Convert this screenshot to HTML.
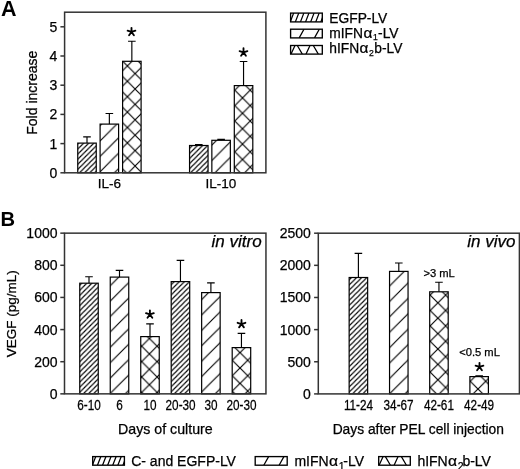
<!DOCTYPE html>
<html><head><meta charset="utf-8"><style>
html,body{margin:0;padding:0;background:#fff;overflow:hidden;width:520px;height:469px;}
svg{display:block;filter:grayscale(1);}
text{font-family:"Liberation Sans", sans-serif;fill:#000;stroke:#000;stroke-width:0.25px;}
</style></head><body>
<svg width="520" height="469" viewBox="0 0 520 469">
<rect width="520" height="469" fill="#fff"/>
<defs>
<pattern id="p1" patternUnits="userSpaceOnUse" x="77.50" y="154.40" width="5.1" height="5.1"><path d="M-1,1 L1,-1 M0,5.1 L5.1,0 M4.1,6.1 L6.1,4.1" stroke="#000" stroke-width="1.15" fill="none"/></pattern>
<pattern id="p2" patternUnits="userSpaceOnUse" x="100.00" y="141.00" width="15.4" height="15.4"><path d="M-1,1 L1,-1 M0,15.4 L15.4,0 M14.4,16.4 L16.4,14.4" stroke="#000" stroke-width="1.15" fill="none"/></pattern>
<pattern id="p3" patternUnits="userSpaceOnUse" x="127.40" y="81.30" width="15.4" height="15.4"><path d="M-1,1 L1,-1 M0,15.4 L15.4,0 M14.4,16.4 L16.4,14.4 M-1,14.4 L1,16.4 M0,0 L15.4,15.4 M14.4,-1 L16.4,1" stroke="#000" stroke-width="1.15" fill="none"/></pattern>
<pattern id="p4" patternUnits="userSpaceOnUse" x="189.60" y="153.40" width="5.1" height="5.1"><path d="M-1,1 L1,-1 M0,5.1 L5.1,0 M4.1,6.1 L6.1,4.1" stroke="#000" stroke-width="1.15" fill="none"/></pattern>
<pattern id="p5" patternUnits="userSpaceOnUse" x="211.90" y="160.40" width="15.4" height="15.4"><path d="M-1,1 L1,-1 M0,15.4 L15.4,0 M14.4,16.4 L16.4,14.4" stroke="#000" stroke-width="1.15" fill="none"/></pattern>
<pattern id="p6" patternUnits="userSpaceOnUse" x="242.50" y="97.90" width="15.4" height="15.4"><path d="M-1,1 L1,-1 M0,15.4 L15.4,0 M14.4,16.4 L16.4,14.4 M-1,14.4 L1,16.4 M0,0 L15.4,15.4 M14.4,-1 L16.4,1" stroke="#000" stroke-width="1.15" fill="none"/></pattern>
<clipPath id="c6"><rect x="290.6" y="13.1" width="31.70" height="8.80"/></clipPath>
<clipPath id="c7"><rect x="290.6" y="29.2" width="31.70" height="8.70"/></clipPath>
<clipPath id="c8"><rect x="290.6" y="45.5" width="31.70" height="8.60"/></clipPath>
<pattern id="p7" patternUnits="userSpaceOnUse" x="79.85" y="290.20" width="5.1" height="5.1"><path d="M-1,1 L1,-1 M0,5.1 L5.1,0 M4.1,6.1 L6.1,4.1" stroke="#000" stroke-width="1.15" fill="none"/></pattern>
<pattern id="p8" patternUnits="userSpaceOnUse" x="110.40" y="285.50" width="15.4" height="15.4"><path d="M-1,1 L1,-1 M0,15.4 L15.4,0 M14.4,16.4 L16.4,14.4" stroke="#000" stroke-width="1.15" fill="none"/></pattern>
<pattern id="p9" patternUnits="userSpaceOnUse" x="149.40" y="353.90" width="15.4" height="15.4"><path d="M-1,1 L1,-1 M0,15.4 L15.4,0 M14.4,16.4 L16.4,14.4 M-1,14.4 L1,16.4 M0,0 L15.4,15.4 M14.4,-1 L16.4,1" stroke="#000" stroke-width="1.15" fill="none"/></pattern>
<pattern id="p10" patternUnits="userSpaceOnUse" x="171.60" y="289.40" width="5.1" height="5.1"><path d="M-1,1 L1,-1 M0,5.1 L5.1,0 M4.1,6.1 L6.1,4.1" stroke="#000" stroke-width="1.15" fill="none"/></pattern>
<pattern id="p11" patternUnits="userSpaceOnUse" x="201.40" y="299.80" width="15.4" height="15.4"><path d="M-1,1 L1,-1 M0,15.4 L15.4,0 M14.4,16.4 L16.4,14.4" stroke="#000" stroke-width="1.15" fill="none"/></pattern>
<pattern id="p12" patternUnits="userSpaceOnUse" x="240.00" y="352.60" width="15.4" height="15.4"><path d="M-1,1 L1,-1 M0,15.4 L15.4,0 M14.4,16.4 L16.4,14.4 M-1,14.4 L1,16.4 M0,0 L15.4,15.4 M14.4,-1 L16.4,1" stroke="#000" stroke-width="1.15" fill="none"/></pattern>
<pattern id="p13" patternUnits="userSpaceOnUse" x="349.30" y="284.90" width="5.1" height="5.1"><path d="M-1,1 L1,-1 M0,5.1 L5.1,0 M4.1,6.1 L6.1,4.1" stroke="#000" stroke-width="1.15" fill="none"/></pattern>
<pattern id="p14" patternUnits="userSpaceOnUse" x="389.40" y="286.20" width="15.4" height="15.4"><path d="M-1,1 L1,-1 M0,15.4 L15.4,0 M14.4,16.4 L16.4,14.4" stroke="#000" stroke-width="1.15" fill="none"/></pattern>
<pattern id="p15" patternUnits="userSpaceOnUse" x="437.90" y="302.80" width="15.4" height="15.4"><path d="M-1,1 L1,-1 M0,15.4 L15.4,0 M14.4,16.4 L16.4,14.4 M-1,14.4 L1,16.4 M0,0 L15.4,15.4 M14.4,-1 L16.4,1" stroke="#000" stroke-width="1.15" fill="none"/></pattern>
<pattern id="p16" patternUnits="userSpaceOnUse" x="478.00" y="389.00" width="15.4" height="15.4"><path d="M-1,1 L1,-1 M0,15.4 L15.4,0 M14.4,16.4 L16.4,14.4 M-1,14.4 L1,16.4 M0,0 L15.4,15.4 M14.4,-1 L16.4,1" stroke="#000" stroke-width="1.15" fill="none"/></pattern>
<clipPath id="c19"><rect x="92.7" y="456.6" width="31.70" height="8.60"/></clipPath>
<clipPath id="c20"><rect x="255.2" y="456.6" width="32.00" height="8.60"/></clipPath>
<clipPath id="c21"><rect x="378.7" y="456.6" width="31.60" height="8.60"/></clipPath>
</defs>
<text x="0.9" y="15.9" font-size="21.5" text-anchor="start" font-weight="bold" font-style="normal"  style="stroke-width:0">A</text>
<rect x="77.75" y="143.1" width="18.50" height="29.70" fill="url(#p1)" stroke="#000" stroke-width="1.2"/>
<path d="M87.00,143.1 V136.85 M83.20,136.85 H90.80" stroke="#000" stroke-width="1.15" fill="none"/>
<rect x="100.1" y="124.1" width="18.50" height="48.70" fill="url(#p2)" stroke="#000" stroke-width="1.2"/>
<path d="M109.35,124.1 V113.5 M105.55,113.5 H113.15" stroke="#000" stroke-width="1.15" fill="none"/>
<rect x="122.6" y="61.3" width="18.50" height="111.50" fill="url(#p3)" stroke="#000" stroke-width="1.2"/>
<path d="M131.85,61.3 V41.2 M128.05,41.2 H135.65" stroke="#000" stroke-width="1.15" fill="none"/>
<rect x="189.55" y="145.5" width="18.50" height="27.30" fill="url(#p4)" stroke="#000" stroke-width="1.2"/>
<path d="M198.80,145.5 V144.6 M195.00,144.6 H202.60" stroke="#000" stroke-width="1.15" fill="none"/>
<rect x="211.85" y="140.3" width="18.50" height="32.50" fill="url(#p5)" stroke="#000" stroke-width="1.2"/>
<path d="M221.10,140.3 V139.4 M217.30,139.4 H224.90" stroke="#000" stroke-width="1.15" fill="none"/>
<rect x="234.3" y="85.6" width="18.50" height="87.20" fill="url(#p6)" stroke="#000" stroke-width="1.2"/>
<path d="M243.55,85.6 V61.5 M239.75,61.5 H247.35" stroke="#000" stroke-width="1.15" fill="none"/>
<rect x="64.6" y="12.2" width="201.30" height="160.60" fill="none" stroke="#333" stroke-width="1.5"/>
<path d="M60.39999999999999,172.80 H64.6" stroke="#333" stroke-width="1.5"/>
<text x="57.4" y="177.75" font-size="14" text-anchor="end" font-weight="normal" font-style="normal" >0</text>
<path d="M60.39999999999999,143.60 H64.6" stroke="#333" stroke-width="1.5"/>
<text x="57.4" y="148.55" font-size="14" text-anchor="end" font-weight="normal" font-style="normal" >1</text>
<path d="M60.39999999999999,114.40 H64.6" stroke="#333" stroke-width="1.5"/>
<text x="57.4" y="119.35" font-size="14" text-anchor="end" font-weight="normal" font-style="normal" >2</text>
<path d="M60.39999999999999,85.20 H64.6" stroke="#333" stroke-width="1.5"/>
<text x="57.4" y="90.15" font-size="14" text-anchor="end" font-weight="normal" font-style="normal" >3</text>
<path d="M60.39999999999999,56.00 H64.6" stroke="#333" stroke-width="1.5"/>
<text x="57.4" y="60.95" font-size="14" text-anchor="end" font-weight="normal" font-style="normal" >4</text>
<path d="M60.39999999999999,26.80 H64.6" stroke="#333" stroke-width="1.5"/>
<text x="57.4" y="31.75" font-size="14" text-anchor="end" font-weight="normal" font-style="normal" >5</text>
<path d="M131.50,31.95 L131.50,27.85 M131.50,31.95 L135.40,30.68 M131.50,31.95 L127.60,30.68 M131.50,31.95 L133.91,35.27 M131.50,31.95 L129.09,35.27 " stroke="#000" stroke-width="1.85" stroke-linecap="round" fill="none"/>
<path d="M243.50,52.35 L243.50,48.25 M243.50,52.35 L247.40,51.08 M243.50,52.35 L239.60,51.08 M243.50,52.35 L245.91,55.67 M243.50,52.35 L241.09,55.67 " stroke="#000" stroke-width="1.85" stroke-linecap="round" fill="none"/>
<text x="109.3" y="188.2" font-size="13.5" text-anchor="middle" font-weight="normal" font-style="normal" >IL-6</text>
<text x="221.0" y="188.2" font-size="13.5" text-anchor="middle" font-weight="normal" font-style="normal" >IL-10</text>
<text transform="translate(36.8,92.7) rotate(-90)" font-size="14" text-anchor="middle">Fold increase</text>
<path d="M290.25,21.90 L293.65,13.10 M295.35,21.90 L298.75,13.10 M300.45,21.90 L303.85,13.10 M305.55,21.90 L308.95,13.10 M310.65,21.90 L314.05,13.10 M315.75,21.90 L319.15,13.10 M320.85,21.90 L324.25,13.10" stroke="#000" stroke-width="1.25" fill="none" clip-path="url(#c6)"/>
<rect x="290.6" y="13.1" width="31.70" height="8.80" fill="none" stroke="#000" stroke-width="1.35"/>
<path d="M299.20,37.90 L304.00,29.20 M314.50,37.90 L319.30,29.20" stroke="#000" stroke-width="1.25" fill="none" clip-path="url(#c7)"/>
<rect x="290.6" y="29.2" width="31.70" height="8.70" fill="none" stroke="#000" stroke-width="1.35"/>
<path d="M291.00,54.10 L295.00,45.50 M306.00,54.10 L310.00,45.50 M297.30,45.50 L302.30,54.10 M313.30,45.50 L318.30,54.10" stroke="#000" stroke-width="1.25" fill="none" clip-path="url(#c8)"/>
<rect x="290.6" y="45.5" width="31.70" height="8.60" fill="none" stroke="#000" stroke-width="1.35"/>
<text x="329.3" y="22.7" font-size="13.8" text-anchor="start" font-weight="normal" font-style="normal" >EGFP-LV</text>
<text x="329.30" y="38.0" font-size="13.8">mIFN</text>
<text transform="translate(363.38,38.0) scale(1.12,1)" font-size="13.8">&#945;</text>
<text x="372.91" y="40.40" font-size="8.6">1</text>
<text x="378.09" y="38.0" font-size="13.8">-LV</text>
<text x="329.30" y="53.3" font-size="13.8">hIFN</text>
<text transform="translate(359.55,53.3) scale(1.12,1)" font-size="13.8">&#945;</text>
<text x="369.09" y="55.70" font-size="8.6">2</text>
<text x="374.27" y="53.3" font-size="13.8">b-LV</text>
<text x="0.4" y="226.1" font-size="20.2" text-anchor="start" font-weight="bold" font-style="normal"  style="stroke-width:0">B</text>
<rect x="79.75" y="283.2" width="18.50" height="110.65" fill="url(#p7)" stroke="#000" stroke-width="1.2"/>
<path d="M89.00,283.2 V276.75 M85.20,276.75 H92.80" stroke="#000" stroke-width="1.15" fill="none"/>
<rect x="110.25" y="277.1" width="18.50" height="116.75" fill="url(#p8)" stroke="#000" stroke-width="1.2"/>
<path d="M119.50,277.1 V270.3 M115.70,270.3 H123.30" stroke="#000" stroke-width="1.15" fill="none"/>
<rect x="140.75" y="336.6" width="18.50" height="57.25" fill="url(#p9)" stroke="#000" stroke-width="1.2"/>
<path d="M150.00,336.6 V323.8 M146.20,323.8 H153.80" stroke="#000" stroke-width="1.15" fill="none"/>
<rect x="171.2" y="281.6" width="18.50" height="112.25" fill="url(#p10)" stroke="#000" stroke-width="1.2"/>
<path d="M180.45,281.6 V260.4 M176.65,260.4 H184.25" stroke="#000" stroke-width="1.15" fill="none"/>
<rect x="201.65" y="292.6" width="18.50" height="101.25" fill="url(#p11)" stroke="#000" stroke-width="1.2"/>
<path d="M210.90,292.6 V282.8 M207.10,282.8 H214.70" stroke="#000" stroke-width="1.15" fill="none"/>
<rect x="232.2" y="347.6" width="18.50" height="46.25" fill="url(#p12)" stroke="#000" stroke-width="1.2"/>
<path d="M241.45,347.6 V333.3 M237.65,333.3 H245.25" stroke="#000" stroke-width="1.15" fill="none"/>
<rect x="64.5" y="233.15" width="201.45" height="160.70" fill="none" stroke="#333" stroke-width="1.5"/>
<path d="M60.3,393.85 H64.5" stroke="#333" stroke-width="1.5"/>
<text x="57.5" y="398.8" font-size="14" text-anchor="end" font-weight="normal" font-style="normal" >0</text>
<path d="M60.3,361.71 H64.5" stroke="#333" stroke-width="1.5"/>
<text x="57.5" y="366.66" font-size="14" text-anchor="end" font-weight="normal" font-style="normal" >200</text>
<path d="M60.3,329.57 H64.5" stroke="#333" stroke-width="1.5"/>
<text x="57.5" y="334.52" font-size="14" text-anchor="end" font-weight="normal" font-style="normal" >400</text>
<path d="M60.3,297.43 H64.5" stroke="#333" stroke-width="1.5"/>
<text x="57.5" y="302.38" font-size="14" text-anchor="end" font-weight="normal" font-style="normal" >600</text>
<path d="M60.3,265.29 H64.5" stroke="#333" stroke-width="1.5"/>
<text x="57.5" y="270.24" font-size="14" text-anchor="end" font-weight="normal" font-style="normal" >800</text>
<path d="M60.3,233.15 H64.5" stroke="#333" stroke-width="1.5"/>
<text x="57.5" y="238.1" font-size="14" text-anchor="end" font-weight="normal" font-style="normal" >1000</text>
<path d="M149.90,314.45 L149.90,310.35 M149.90,314.45 L153.80,313.18 M149.90,314.45 L146.00,313.18 M149.90,314.45 L152.31,317.77 M149.90,314.45 L147.49,317.77 " stroke="#000" stroke-width="1.85" stroke-linecap="round" fill="none"/>
<path d="M241.50,324.05 L241.50,319.95 M241.50,324.05 L245.40,322.78 M241.50,324.05 L237.60,322.78 M241.50,324.05 L243.91,327.37 M241.50,324.05 L239.09,327.37 " stroke="#000" stroke-width="1.85" stroke-linecap="round" fill="none"/>
<text x="261.6" y="247.4" font-size="17" text-anchor="end" font-weight="normal" font-style="italic" >in vitro</text>
<text transform="translate(89.0,409.5) scale(0.84,1)" font-size="14" text-anchor="middle">6-10</text>
<text transform="translate(119.5,409.5) scale(0.84,1)" font-size="14" text-anchor="middle">6</text>
<text transform="translate(150.1,409.5) scale(0.84,1)" font-size="14" text-anchor="middle">10</text>
<text transform="translate(180.6,409.5) scale(0.84,1)" font-size="14" text-anchor="middle">20-30</text>
<text transform="translate(211.0,409.5) scale(0.84,1)" font-size="14" text-anchor="middle">30</text>
<text transform="translate(241.5,409.5) scale(0.84,1)" font-size="14" text-anchor="middle">20-30</text>
<text x="165.4" y="433.9" font-size="14.2" text-anchor="middle" font-weight="normal" font-style="normal" >Days of culture</text>
<text transform="translate(15.6,313.8) rotate(-90)" font-size="13.5" text-anchor="middle">VEGF (pg/mL)</text>
<rect x="349.15" y="277.5" width="18.50" height="116.40" fill="url(#p13)" stroke="#000" stroke-width="1.2"/>
<path d="M358.40,277.5 V253.3 M354.60,253.3 H362.20" stroke="#000" stroke-width="1.15" fill="none"/>
<rect x="389.55" y="271.4" width="18.50" height="122.50" fill="url(#p14)" stroke="#000" stroke-width="1.2"/>
<path d="M398.80,271.4 V263.0 M395.00,263.0 H402.60" stroke="#000" stroke-width="1.15" fill="none"/>
<rect x="429.7" y="291.8" width="18.50" height="102.10" fill="url(#p15)" stroke="#000" stroke-width="1.2"/>
<path d="M438.95,291.8 V282.2 M435.15,282.2 H442.75" stroke="#000" stroke-width="1.15" fill="none"/>
<rect x="469.9" y="376.6" width="18.50" height="17.30" fill="url(#p16)" stroke="#000" stroke-width="1.2"/>
<path d="M479.15,376.6 V375.7 M475.35,375.7 H482.95" stroke="#000" stroke-width="1.15" fill="none"/>
<rect x="318.3" y="233.2" width="201.10" height="160.70" fill="none" stroke="#333" stroke-width="1.5"/>
<path d="M314.1,393.90 H318.3" stroke="#333" stroke-width="1.5"/>
<text x="310.8" y="398.85" font-size="14" text-anchor="end" font-weight="normal" font-style="normal" >0</text>
<path d="M314.1,361.76 H318.3" stroke="#333" stroke-width="1.5"/>
<text x="310.8" y="366.71" font-size="14" text-anchor="end" font-weight="normal" font-style="normal" >500</text>
<path d="M314.1,329.62 H318.3" stroke="#333" stroke-width="1.5"/>
<text x="310.8" y="334.57" font-size="14" text-anchor="end" font-weight="normal" font-style="normal" >1000</text>
<path d="M314.1,297.48 H318.3" stroke="#333" stroke-width="1.5"/>
<text x="310.8" y="302.43" font-size="14" text-anchor="end" font-weight="normal" font-style="normal" >1500</text>
<path d="M314.1,265.34 H318.3" stroke="#333" stroke-width="1.5"/>
<text x="310.8" y="270.29" font-size="14" text-anchor="end" font-weight="normal" font-style="normal" >2000</text>
<path d="M314.1,233.20 H318.3" stroke="#333" stroke-width="1.5"/>
<text x="310.8" y="238.15" font-size="14" text-anchor="end" font-weight="normal" font-style="normal" >2500</text>
<path d="M479.50,366.95 L479.50,362.85 M479.50,366.95 L483.40,365.68 M479.50,366.95 L475.60,365.68 M479.50,366.95 L481.91,370.27 M479.50,366.95 L477.09,370.27 " stroke="#000" stroke-width="1.85" stroke-linecap="round" fill="none"/>
<text x="515.5" y="246.9" font-size="17" text-anchor="end" font-weight="normal" font-style="italic" >in vivo</text>
<text x="439.1" y="276.8" font-size="11.2" text-anchor="middle" font-weight="normal" font-style="normal" >&gt;3 mL</text>
<text x="479.5" y="356.3" font-size="11.2" text-anchor="middle" font-weight="normal" font-style="normal" >&lt;0.5 mL</text>
<text transform="translate(358.5,409.5) scale(0.84,1)" font-size="14" text-anchor="middle">11-24</text>
<text transform="translate(398.6,409.5) scale(0.84,1)" font-size="14" text-anchor="middle">34-67</text>
<text transform="translate(438.9,409.5) scale(0.84,1)" font-size="14" text-anchor="middle">42-61</text>
<text transform="translate(479.1,409.5) scale(0.84,1)" font-size="14" text-anchor="middle">42-49</text>
<text x="418.3" y="434.0" font-size="13.8" text-anchor="middle" font-weight="normal" font-style="normal" >Days after PEL cell injection</text>
<path d="M92.35,465.20 L95.75,456.60 M97.45,465.20 L100.85,456.60 M102.55,465.20 L105.95,456.60 M107.65,465.20 L111.05,456.60 M112.75,465.20 L116.15,456.60 M117.85,465.20 L121.25,456.60 M122.95,465.20 L126.35,456.60" stroke="#000" stroke-width="1.25" fill="none" clip-path="url(#c19)"/>
<rect x="92.7" y="456.6" width="31.70" height="8.60" fill="none" stroke="#000" stroke-width="1.35"/>
<path d="M263.80,465.20 L268.60,456.60 M279.10,465.20 L283.90,456.60" stroke="#000" stroke-width="1.25" fill="none" clip-path="url(#c20)"/>
<rect x="255.2" y="456.6" width="32.00" height="8.60" fill="none" stroke="#000" stroke-width="1.35"/>
<path d="M379.10,465.20 L383.10,456.60 M394.10,465.20 L398.10,456.60 M385.40,456.60 L390.40,465.20 M401.40,456.60 L406.40,465.20" stroke="#000" stroke-width="1.25" fill="none" clip-path="url(#c21)"/>
<rect x="378.7" y="456.6" width="31.60" height="8.60" fill="none" stroke="#000" stroke-width="1.35"/>
<text x="131.2" y="465.8" font-size="14.0" text-anchor="start" font-weight="normal" font-style="normal" >C- and EGFP-LV</text>
<text x="294.40" y="465.8" font-size="14.0">mIFN</text>
<text transform="translate(328.96,465.8) scale(1.12,1)" font-size="14.0">&#945;</text>
<text x="338.63" y="469.60" font-size="10.5">1</text>
<text x="343.27" y="465.8" font-size="14.0">-LV</text>
<text x="417.40" y="465.8" font-size="14.0">hIFN</text>
<text transform="translate(448.09,465.8) scale(1.12,1)" font-size="14.0">&#945;</text>
<text x="457.75" y="469.60" font-size="10.5">2</text>
<text x="462.39" y="465.8" font-size="14.0">b-LV</text>
</svg>
</body></html>
